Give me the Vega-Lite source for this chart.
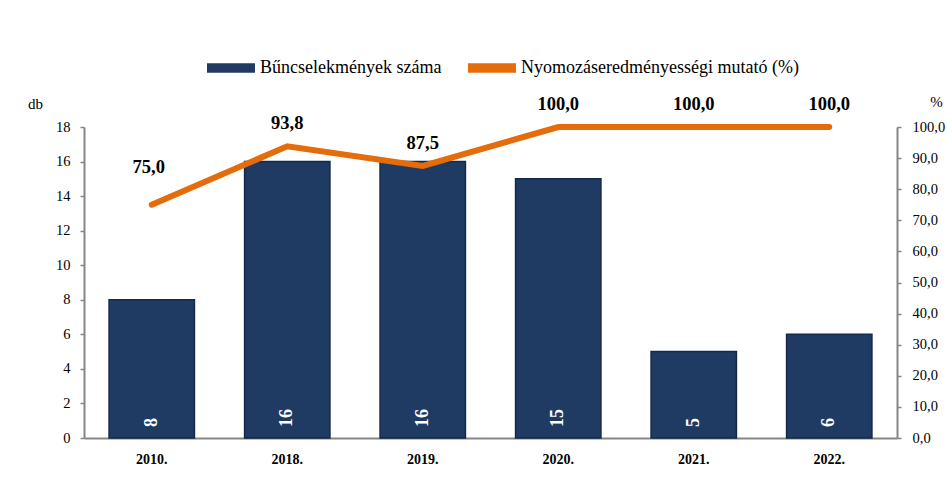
{
  "$schema": "https://vega.github.io/schema/vega-lite/v6.json",
  "width": 813,
  "height": 311,
  "autosize": "none",
  "padding": {"left": 84, "top": 127, "right": 50, "bottom": 49},
  "config": {
    "font": "Liberation Serif",
    "view": {"stroke": null},
    "locale": {"number": {"decimal": ",", "thousands": " ", "grouping": [3], "currency": ["", ""]}}
  },
  "data": {
    "values": [
      {"year": "2010.", "count": 8, "rate": 75.0},
      {"year": "2018.", "count": 16, "rate": 93.8},
      {"year": "2019.", "count": 16, "rate": 87.5},
      {"year": "2020.", "count": 15, "rate": 100.0},
      {"year": "2021.", "count": 5, "rate": 100.0},
      {"year": "2022.", "count": 6, "rate": 100.0}
    ]
  },
  "encoding": {
    "x": {
      "field": "year", "type": "ordinal", "sort": null,
      "scale": {"paddingInner": 0.37, "paddingOuter": 0.185},
      "axis": {
        "title": null, "labelAngle": 0, "ticks": false,
        "domainColor": "#868686", "domainWidth": 2,
        "labelFont": "Liberation Serif", "labelFontSize": 14, "labelFontWeight": "bold",
        "labelColor": "#000", "labelPadding": 14
      }
    }
  },
  "layer": [
    {
      "encoding": {
        "y": {
          "field": "count", "type": "quantitative",
          "scale": {"domain": [0, 18]},
          "axis": {
            "values": [0, 2, 4, 6, 8, 10, 12, 14, 16, 18],
            "grid": false, "domainColor": "#868686", "domainWidth": 2,
            "tickColor": "#868686", "tickSize": 4, "tickWidth": 1.5,
            "labelFont": "Liberation Serif", "titleFont": "Liberation Serif",
            "labelFontSize": 14.5, "labelColor": "#000", "labelPadding": 10,
            "title": "db", "titleAngle": 0, "titleAlign": "center", "titleBaseline": "middle",
            "titleX": -49, "titleY": -24, "titleFontWeight": "normal", "titleFontSize": 15, "titleColor": "#000"
          }
        }
      },
      "layer": [
        {
          "mark": {"type": "bar", "stroke": "#13284a", "strokeWidth": 1.5, "opacity": 1},
          "encoding": {
            "color": {
              "datum": "Bűncselekmények száma", "type": "nominal",
              "scale": {
                "domain": ["Bűncselekmények száma", "Nyomozáseredményességi mutató (%)"],
                "range": ["#1f3b63", "#E46C0A"]
              },
              "legend": {
                "orient": "none", "legendX": 123, "legendY": -83,
                "direction": "horizontal", "title": null,
                "symbolType": "M-1,-0.2H1V0.2H-1Z", "symbolSize": 2304, "symbolStrokeWidth": 0,
                "symbolOpacity": 1,
                "labelFont": "Liberation Serif", "labelFontSize": 18, "labelColor": "#000", "labelFontWeight": "normal",
                "labelOffset": 5, "columnPadding": 26, "labelLimit": 400
              }
            }
          }
        },
        {
          "mark": {
            "type": "text", "angle": 270, "align": "left", "baseline": "middle",
            "dx": 11, "fontSize": 18, "fontWeight": "bold", "color": "#ffffff"
          },
          "encoding": {
            "y": {"datum": 0, "type": "quantitative"},
            "text": {"field": "count", "type": "quantitative"}
          }
        }
      ]
    },
    {
      "encoding": {
        "y": {
          "field": "rate", "type": "quantitative",
          "scale": {"domain": [0, 100]},
          "axis": {
            "orient": "right",
            "values": [0, 10, 20, 30, 40, 50, 60, 70, 80, 90, 100],
            "format": ".1f",
            "grid": false, "domainColor": "#868686", "domainWidth": 2,
            "tickColor": "#868686", "tickSize": 4, "tickWidth": 1.5,
            "labelFont": "Liberation Serif", "titleFont": "Liberation Serif",
            "labelFontSize": 14.5, "labelColor": "#000", "labelPadding": 11,
            "title": "%", "titleAngle": 0, "titleAlign": "center", "titleBaseline": "middle",
            "titleX": 39, "titleY": -26, "titleFontWeight": "normal", "titleFontSize": 15, "titleColor": "#000"
          }
        }
      },
      "layer": [
        {
          "mark": {"type": "line", "strokeWidth": 6, "strokeCap": "round", "strokeJoin": "miter"},
          "encoding": {
            "color": {"datum": "Nyomozáseredményességi mutató (%)", "type": "nominal"}
          }
        },
        {
          "transform": [{"filter": "datum.year !== '2010.'"}],
          "mark": {"type": "text", "dy": -23, "fontSize": 18.5, "fontWeight": "bold", "color": "#000", "baseline": "middle"},
          "encoding": {"text": {"field": "rate", "type": "quantitative", "format": ".1f"}}
        },
        {
          "transform": [{"filter": "datum.year === '2010.'"}],
          "mark": {"type": "text", "dy": -38, "dx": -3, "fontSize": 18.5, "fontWeight": "bold", "color": "#000", "baseline": "middle"},
          "encoding": {"text": {"field": "rate", "type": "quantitative", "format": ".1f"}}
        }
      ]
    }
  ],
  "resolve": {"scale": {"y": "independent"}}
}
